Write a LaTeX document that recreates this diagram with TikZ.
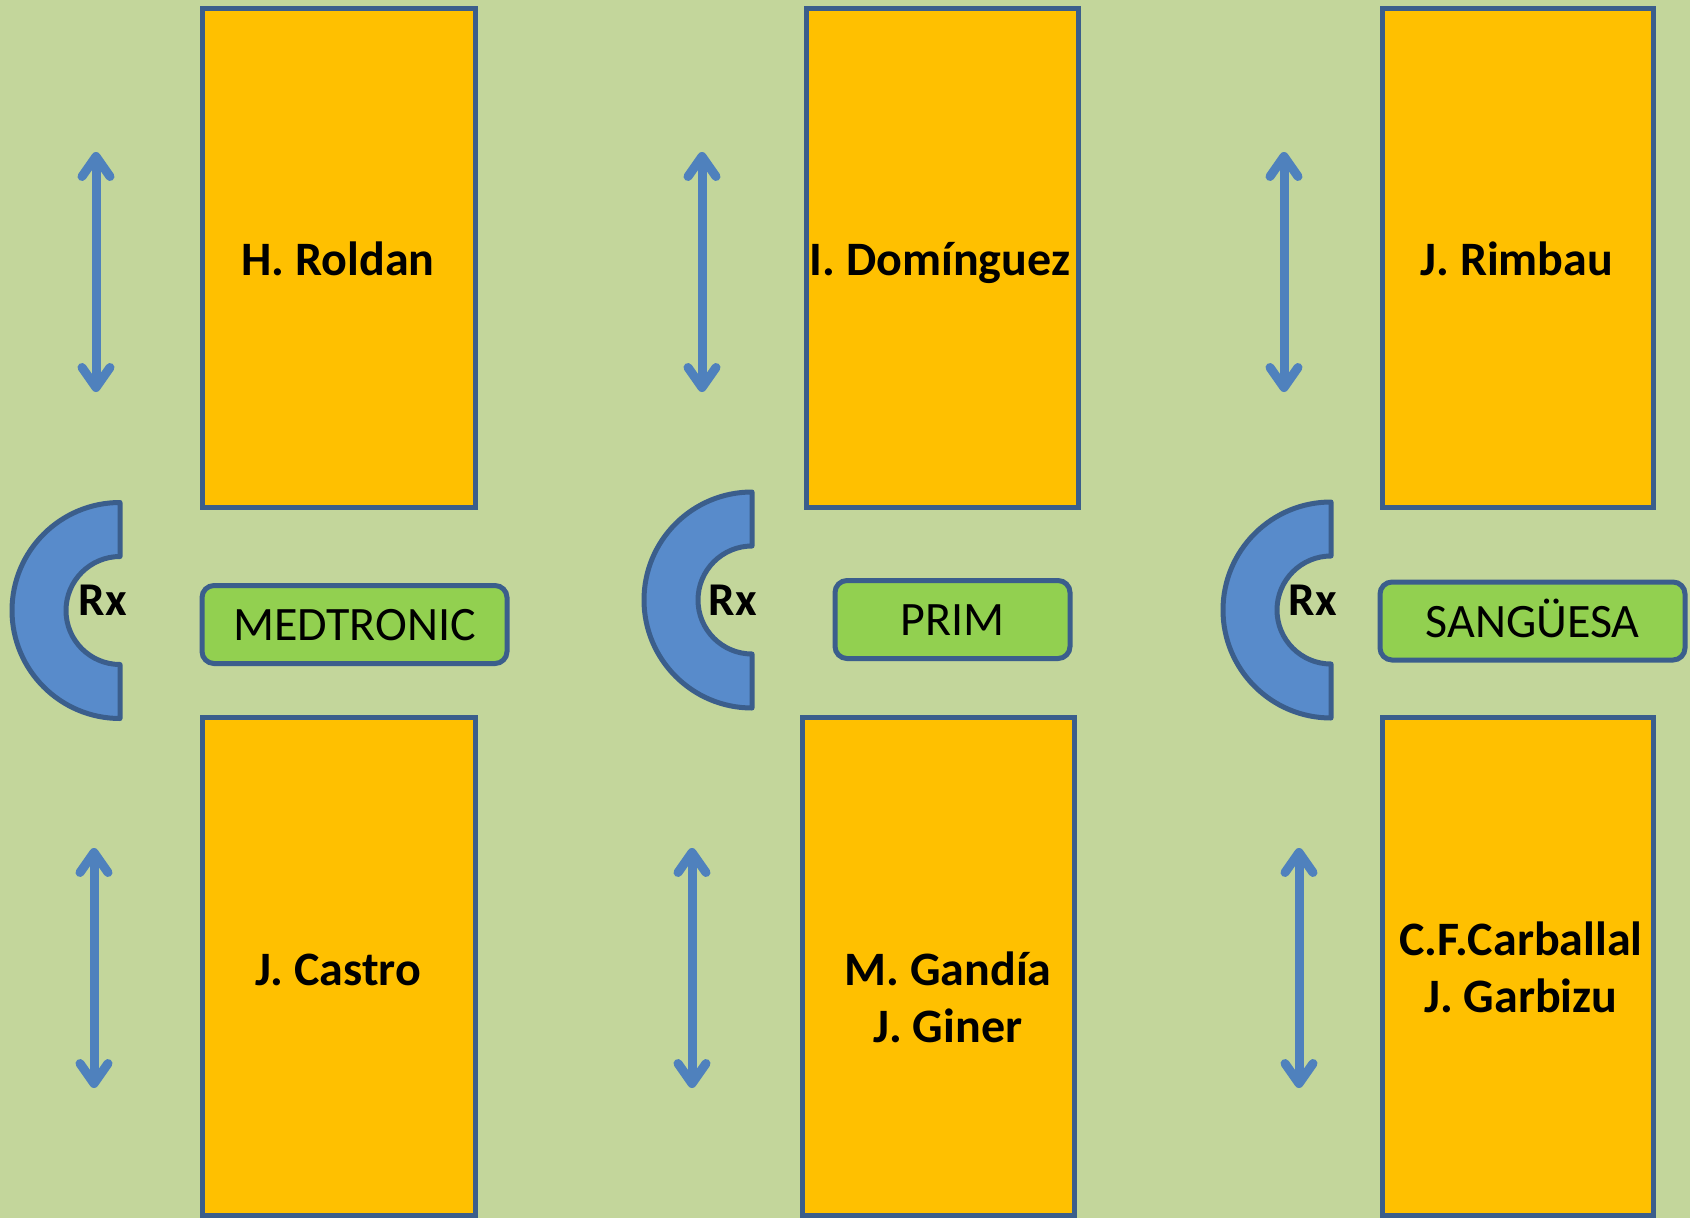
\documentclass[tikz,border=0pt]{standalone}
\usepackage{fontspec}
\setmainfont{Carlito}
\usetikzlibrary{arrows.meta}

\definecolor{bggreen}{HTML}{C3D69B}
\definecolor{boxorange}{HTML}{FFC000}
\definecolor{tabgreen}{HTML}{92D050}
\definecolor{edgeblue}{HTML}{3B5E8C}
\definecolor{arcblue}{HTML}{588BCB}
\definecolor{arrowblue}{HTML}{4F81BD}

\begin{document}
\begin{tikzpicture}[x=1pt,y=-1pt,
    namebox/.style={draw=edgeblue, fill=boxorange, line width=5pt, inner sep=0pt,
        minimum width=273pt, minimum height=499pt},
    nametext/.style={anchor=base, align=center, font=\fontsize{48}{57}\selectfont\bfseries},
    tabbox/.style={draw=edgeblue, fill=tabgreen, line width=5pt, rounded corners=12pt,
        minimum height=78pt, text height=32pt, text depth=0pt,
        font=\fontsize{48}{57}\selectfont},
    rxshape/.style={draw=edgeblue, fill=arcblue, line width=5pt, line join=round},
    rxtext/.style={anchor=base, font=\fontsize{47}{50}\selectfont\bfseries},
    updown/.style={draw=arrowblue, line width=9pt,
        {Straight Barb[round, length=20pt, width=28pt]}-{Straight Barb[round, length=20pt, width=28pt]}}]

    \fill[bggreen] (0,0) rectangle (1690,1218);
    \useasboundingbox (0,0) rectangle (1690,1218);

    % left column
    \node[namebox] (roldan) at (338.5,257.5) {};
    \node[namebox, minimum height=498pt] (castro) at (338.5,966) {};
    \node[nametext] (roldanT) at (338,275) {H. Roldan};
    \node[nametext] (castroT) at (338,985) {J. Castro};
    \node[tabbox, minimum width=305pt] (medtronic) at (354.5,624.5) {MEDTRONIC};
    \draw[rxshape] (120,502.5) arc[start angle=270, end angle=90, radius=108]
        -- (120,664.5) arc[start angle=90, end angle=270, radius=54] -- cycle;
    \node[rxtext] (rx1) at (103,615) {Rx};
    \coordinate (a1t) at (96,152);
    \coordinate (a1b) at (96,392);
    \coordinate (a2t) at (94,848);
    \coordinate (a2b) at (94,1088);
    \draw[updown] (a1t) -- (a1b);
    \draw[updown] (a2t) -- (a2b);

    % middle column
    \node[namebox, minimum width=272pt] (dominguez) at (942,257.5) {};
    \node[namebox, minimum width=272pt, minimum height=498pt] (gandia) at (938,966) {};
    \node[nametext] (dominguezT) at (940,275) {I. Domínguez};
    \node[nametext] (gandiaT) at (948,1042) {M. Gandía\\J. Giner};
    \node[tabbox, minimum width=235pt] (prim) at (952.5,619.5) {PRIM};
    \draw[rxshape] (752,492) arc[start angle=270, end angle=90, radius=108]
        -- (752,654) arc[start angle=90, end angle=270, radius=54] -- cycle;
    \node[rxtext] (rx2) at (733,615) {Rx};
    \coordinate (a3t) at (702,152);
    \coordinate (a3b) at (702,392);
    \coordinate (a4t) at (692,848);
    \coordinate (a4b) at (692,1088);
    \draw[updown] (a3t) -- (a3b);
    \draw[updown] (a4t) -- (a4b);

    % right column
    \node[namebox, minimum width=271pt] (rimbau) at (1517.5,257.5) {};
    \node[namebox, minimum width=271pt, minimum height=498pt] (carballal) at (1517.5,966) {};
    \node[nametext] (rimbauT) at (1517,275) {J. Rimbau};
    \node[nametext] (carballalT) at (1521,1012) {C.F.Carballal\\J. Garbizu};
    \node[tabbox, minimum width=305pt] (sanguesa) at (1532.5,621) {SANGÜESA};
    \draw[rxshape] (1331,502) arc[start angle=270, end angle=90, radius=108]
        -- (1331,664) arc[start angle=90, end angle=270, radius=54] -- cycle;
    \node[rxtext] (rx3) at (1313,615) {Rx};
    \coordinate (a5t) at (1284,152);
    \coordinate (a5b) at (1284,392);
    \coordinate (a6t) at (1299,848);
    \coordinate (a6b) at (1299,1088);
    \draw[updown] (a5t) -- (a5b);
    \draw[updown] (a6t) -- (a6b);
\end{tikzpicture}
\end{document}
